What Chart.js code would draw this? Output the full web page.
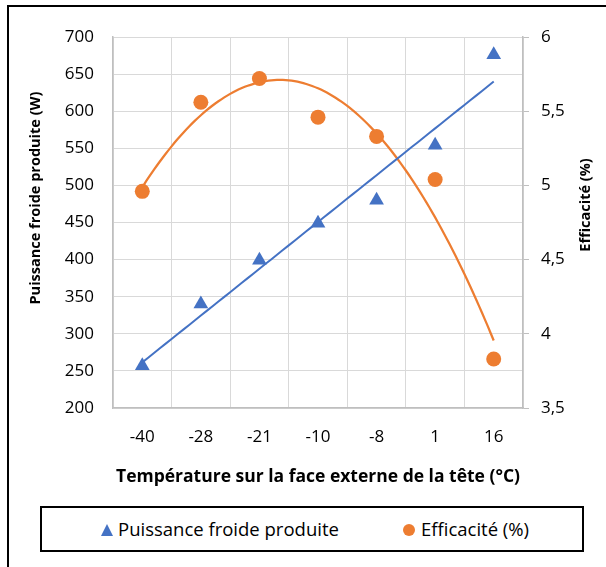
<!DOCTYPE html>
<html>
<head>
<meta charset="utf-8">
<script src="https://cdn.jsdelivr.net/npm/chart.js@4"></script>
<style>
  html, body { margin: 0; padding: 0; background: #fff; }
  #wrap { position: relative; width: 606px; height: 567px; overflow: hidden; }
  #frame { position: absolute; left: 7px; top: 5px; width: 700px; height: 700px; border: 2px solid #000; }
  #chart-box { position: absolute; left: 0; top: 0; width: 606px; height: 567px; }
  #legend {
    position: absolute; left: 40px; top: 506px; width: 540px; height: 42px;
    border: 2px solid #000; background: #fff;
    font-family: "Open Sans", sans-serif; font-size: 18.5px; color: #000;
  }
  .item { position: absolute; top: 0; height: 42px; line-height: 42px; white-space: nowrap; }
  .tri { display: inline-block; width: 0; height: 0; border-left: 6px solid transparent;
         border-right: 6px solid transparent; border-bottom: 12px solid #4472C4; margin-right: 5px; }
  .dot { display: inline-block; width: 12px; height: 12px; border-radius: 50%; background: #ED7D31; margin-right: 6px; }
</style>
</head>
<body>
<div id="wrap">
  <div id="frame"></div>
  <div id="chart-box"><canvas id="result-chart" width="606" height="567"></canvas></div>
  <div id="legend">
    <span class="item" style="left:59px"><span class="tri"></span>Puissance froide produite</span>
    <span class="item" style="left:361px"><span class="dot"></span>Efficacité (%)</span>
  </div>
</div>
<script>
const temperatures = ["-40", "-28", "-21", "-10", "-8", "1", "16"];
const puissance = [257, 340, 399, 449, 480, 554, 676];
const efficacite = [4.96, 5.56, 5.72, 5.46, 5.33, 5.04, 3.83];

const FONT = "'Open Sans', sans-serif";
const GRID = "#d9d9d9";
const AXIS = "#bfbfbf";

// least squares polynomial fit (Excel trendline), x = category index
const poly_fit = (ys, degree) => {
  const n = degree + 1;
  const m = [...Array(n)].map(() => Array(n + 1).fill(0));
  ys.forEach((y, x) => {
    for (let i = 0; i < n; i++) {
      for (let j = 0; j < n; j++) m[i][j] += Math.pow(x, i + j);
      m[i][n] += y * Math.pow(x, i);
    }
  });
  for (let c = 0; c < n; c++) {
    for (let r = c + 1; r < n; r++) {
      const f = m[r][c] / m[c][c];
      for (let k = c; k <= n; k++) m[r][k] -= f * m[c][k];
    }
  }
  const coef = Array(n).fill(0);
  for (let r = n - 1; r >= 0; r--) {
    let s = m[r][n];
    for (let k = r + 1; k < n; k++) s -= m[r][k] * coef[k];
    coef[r] = s / m[r][r];
  }
  return coef;
};

const trend_points = (ys, degree) => {
  const coef = poly_fit(ys, degree);
  const pts = [];
  for (let i = 0; i <= 60; i++) {
    const x = i / 10;
    pts.push({ x: x, y: coef.reduce((acc, c, k) => acc + c * Math.pow(x, k), 0) });
  }
  return pts;
};

// both vertical titles read bottom-to-top, drawn by hand
const axis_titles = {
  id: "axis_titles",
  afterDraw: (chart) => {
    const ctx = chart.ctx;
    const draw = (text, x, y) => {
      ctx.save();
      ctx.translate(x, y);
      ctx.rotate(-Math.PI / 2);
      ctx.font = "bold 14.5px " + FONT;
      ctx.fillStyle = "#000";
      ctx.textAlign = "center";
      ctx.textBaseline = "middle";
      ctx.fillText(text, 0, 0);
      ctx.restore();
    };
    draw("Puissance froide produite (W)", 36, 198);
    draw("Efficacité (%)", 586, 205);
  },
};

const config = {
  type: "line",
  data: {
    labels: temperatures,
    datasets: [
      {
        label: "Puissance froide produite",
        data: puissance,
        yAxisID: "y",
        xAxisID: "x",
        showLine: false,
        pointStyle: "triangle",
        pointRadius: 8.5,
        pointBackgroundColor: "#4472C4",
        pointBorderWidth: 0,
        order: 3,
      },
      {
        label: "Efficacité (%)",
        data: efficacite,
        yAxisID: "y1",
        xAxisID: "x",
        showLine: false,
        pointStyle: "circle",
        pointRadius: 7.5,
        pointBackgroundColor: "#ED7D31",
        pointBorderWidth: 0,
        order: 4,
      },
      {
        label: "trend puissance",
        data: trend_points(puissance, 1),
        yAxisID: "y",
        xAxisID: "xt",
        borderColor: "#4472C4",
        borderWidth: 2,
        pointRadius: 0,
        order: 1,
      },
      {
        label: "trend efficacite",
        data: trend_points(efficacite, 2),
        yAxisID: "y1",
        xAxisID: "xt",
        borderColor: "#ED7D31",
        borderWidth: 2.25,
        pointRadius: 0,
        tension: 0.3,
        order: 2,
      },
    ],
  },
  options: {
    responsive: false,
    animation: false,
    events: [],
    layout: { padding: { left: 0, right: 0, top: 37, bottom: 79 } },
    plugins: { legend: { display: false }, tooltip: { enabled: false } },
    scales: {
      x: {
        type: "category",
        offset: true,
        grid: { offset: true, color: GRID, drawTicks: false },
        border: { color: AXIS, width: 1.5 },
        ticks: { color: "#000", font: { family: FONT, size: 17 }, padding: 19 },
        title: {
          display: true,
          text: "Température sur la face externe de la tête (°C)",
          color: "#000",
          font: { family: FONT, size: 17.5, weight: "bold" },
          padding: 0,
        },
        afterFit: (scale) => { scale.height = 80; },
      },
      xt: { type: "linear", display: false, min: -0.5, max: 6.5 },
      y: {
        position: "left",
        min: 200,
        max: 700,
        grid: { color: GRID, drawTicks: false },
        border: { color: AXIS, width: 1.5 },
        ticks: { stepSize: 50, color: "#000", font: { family: FONT, size: 17 }, padding: 19 },
        afterFit: (scale) => { scale.width = 113; },
      },
      y1: {
        position: "right",
        min: 3.5,
        max: 6,
        grid: { drawOnChartArea: false, color: AXIS, tickLength: 6 },
        border: { color: AXIS, width: 1.5 },
        ticks: {
          stepSize: 0.5,
          color: "#000",
          font: { family: FONT, size: 17 },
          padding: 12,
          callback: (v) => String(v).replace(".", ","),
        },
        afterFit: (scale) => { scale.width = 83; },
      },
    },
  },
  plugins: [axis_titles],
};

new Chart(document.getElementById("result-chart"), config);
</script>
</body>
</html>
